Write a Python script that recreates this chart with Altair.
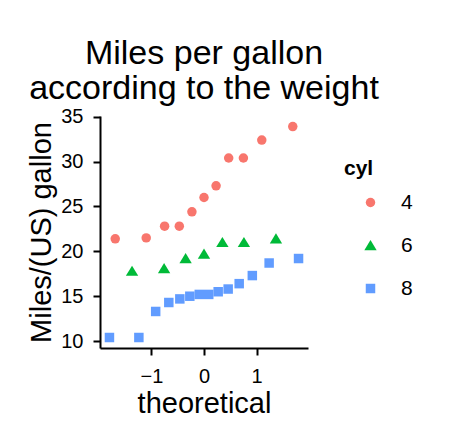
import altair as alt
import pandas as pd

# QQ plot data: theoretical normal quantiles vs. sorted mpg, by cylinder count
cyl4_theo = [-1.69, -1.10, -0.75, -0.47, -0.23, 0.0, 0.23, 0.47, 0.75, 1.10, 1.69]
cyl4_mpg = [21.4, 21.5, 22.8, 22.8, 24.4, 26.0, 27.3, 30.4, 30.4, 32.4, 33.9]

cyl6_theo = [-1.37, -0.76, -0.35, 0.0, 0.35, 0.76, 1.37]
cyl6_mpg = [17.8, 18.1, 19.2, 19.7, 21.0, 21.0, 21.4]

cyl8_theo = [-1.80, -1.24, -0.92, -0.67, -0.46, -0.27, -0.09,
             0.09, 0.27, 0.46, 0.67, 0.92, 1.24, 1.80]
cyl8_mpg = [10.4, 10.4, 13.3, 14.3, 14.7, 15.0, 15.2,
            15.2, 15.5, 15.8, 16.4, 17.3, 18.7, 19.2]

cyl_levels = ["4", "6", "8"]
x_ticks = [-1, 0, 1]
y_ticks = [10, 15, 20, 25, 30, 35]

FONT = "Liberation Sans"
# slightly wider triangle than vega's built-in one, closer to ggplot's shape 17
TRIANGLE = "M0,-1.15L1.3,1L-1.3,1Z"

df = pd.concat([
    pd.DataFrame({"theoretical": cyl4_theo, "mpg": cyl4_mpg, "cyl": "4"}),
    pd.DataFrame({"theoretical": cyl6_theo, "mpg": cyl6_mpg, "cyl": "6"}),
    pd.DataFrame({"theoretical": cyl8_theo, "mpg": cyl8_mpg, "cyl": "8"}),
])

chart = (
    alt.Chart(df)
    .mark_point(filled=True, size=90, opacity=1)
    .encode(
        x=alt.X(
            "theoretical:Q",
            title="theoretical",
            scale=alt.Scale(domain=[-1.98, 1.98], nice=False, zero=False),
            axis=alt.Axis(values=x_ticks, labelPadding=11,
                          titleY=64, titleBaseline="alphabetic"),
        ),
        y=alt.Y(
            "mpg:Q",
            title="Miles/(US) gallon",
            scale=alt.Scale(domain=[9.23, 35.08], nice=False, zero=False),
            axis=alt.Axis(values=y_ticks, labelPadding=10,
                          titleX=-50, titleBaseline="alphabetic"),
        ),
        color=alt.Color(
            "cyl:N",
            title="cyl",
            scale=alt.Scale(domain=cyl_levels,
                            range=["#F8766D", "#00BA38", "#619CFF"]),
        ),
        shape=alt.Shape(
            "cyl:N",
            title="cyl",
            scale=alt.Scale(domain=cyl_levels,
                            range=["circle", TRIANGLE, "square"]),
        ),
    )
    .properties(
        width=208,
        height=232,
        autosize=alt.AutoSizeParams(type="none"),
        padding={"left": 92, "top": 108, "right": 158, "bottom": 83},
        title=alt.TitleParams(
            text=["Miles per gallon", "according to the weight"],
            font=FONT,
            fontSize=34,
            fontWeight="normal",
            color="black",
            anchor="middle",
            baseline="alphabetic",
            lineHeight=35,
            offset=-26,
        ),
    )
    .configure(font=FONT)
    .configure_view(stroke=None)
    .configure_axis(
        grid=False,
        domainColor="black",
        domainWidth=2,
        tickColor="black",
        tickWidth=2,
        tickSize=7,
        labelFont=FONT,
        labelFontSize=20,
        labelColor="black",
        titleFont=FONT,
        titleFontSize=29,
        titleFontWeight="normal",
        titleColor="black",
    )
    .configure_legend(
        orient="none",
        legendX=244,
        legendY=42,
        titleFont=FONT,
        titleFontSize=21,
        titleFontWeight="bold",
        titleColor="black",
        titlePadding=13,
        labelFont=FONT,
        labelFontSize=21,
        labelColor="black",
        labelOffset=20,
        symbolOffset=16,
        symbolSize=90,
        rowPadding=21,
    )
)

chart.save("out.html", embed_options={"renderer": "svg", "actions": False})
